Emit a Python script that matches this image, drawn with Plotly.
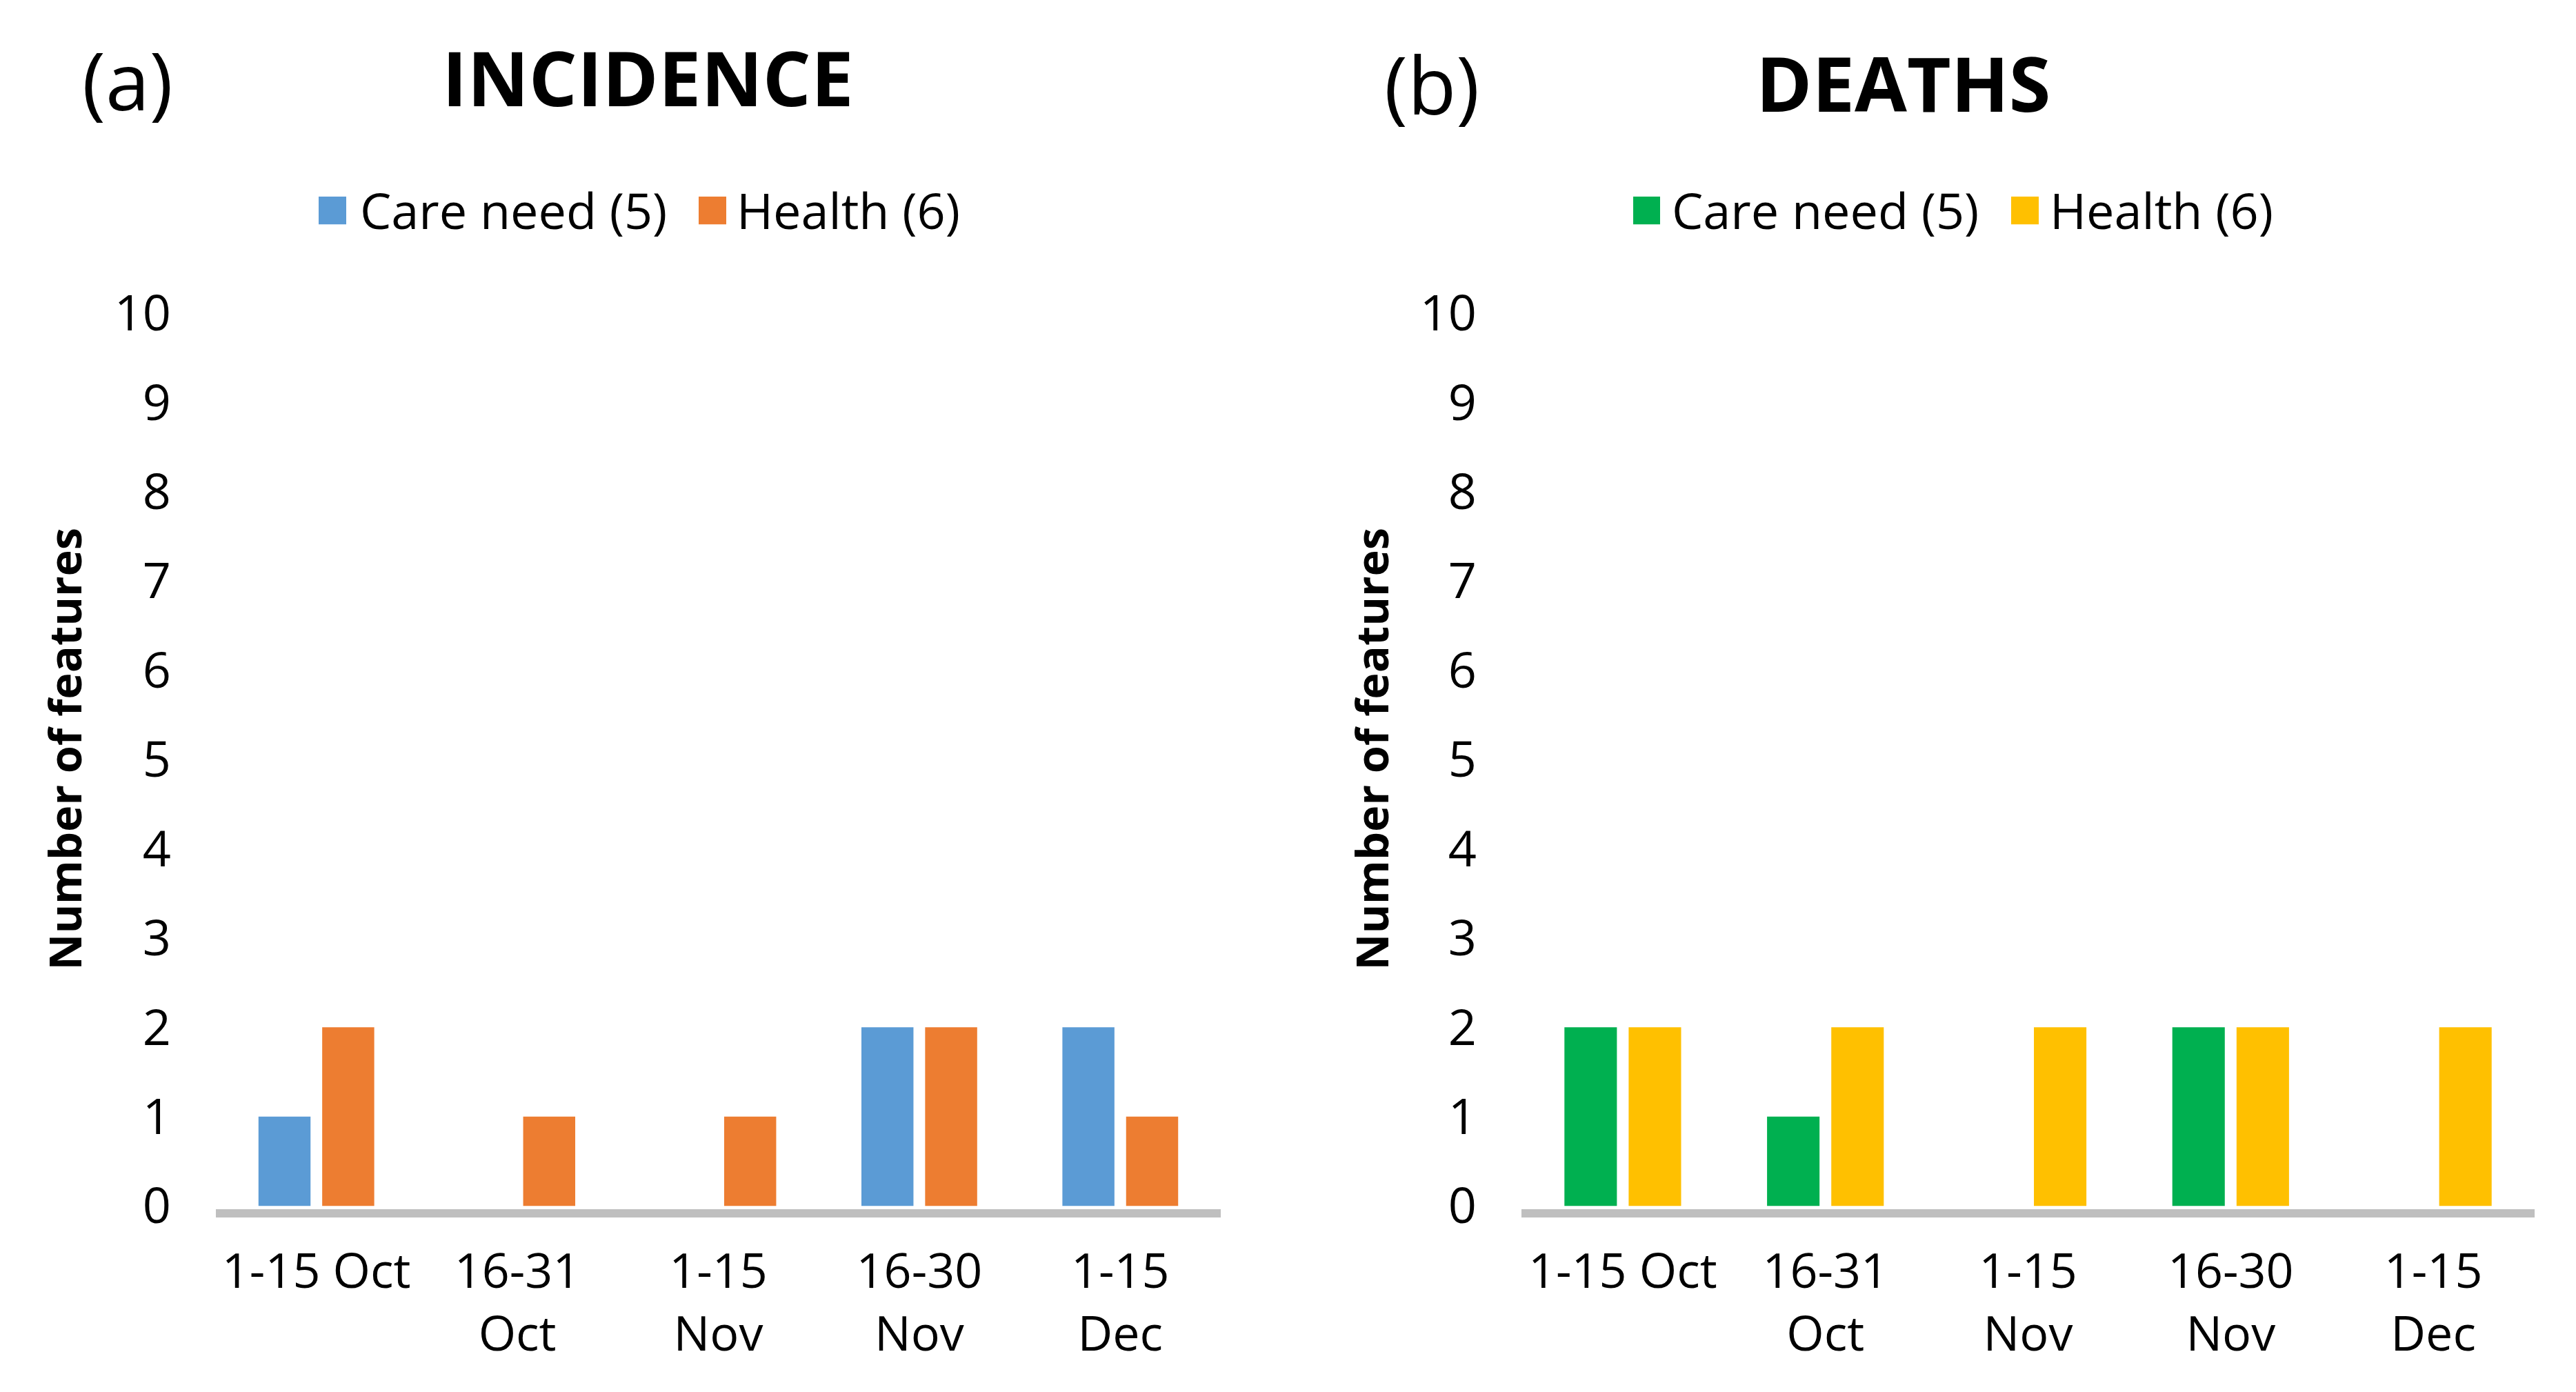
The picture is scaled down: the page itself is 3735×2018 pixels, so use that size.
import plotly.graph_objects as go

# ---- data ----
categories = ["1-15 Oct", "16-31<br>Oct", "1-15<br>Nov", "16-30<br>Nov", "1-15<br>Dec"]
incidence_care = [1, 0, 0, 2, 2]
incidence_health = [2, 1, 1, 2, 1]
deaths_care = [2, 1, 0, 2, 0]
deaths_health = [2, 2, 2, 2, 2]
y_ticks = list(range(0, 11))
series_names = ["Care need (5)", "Health (6)"]
panel_titles = ["INCIDENCE", "DEATHS"]
panel_labels = ["(a)", "(b)"]
y_title = "Number of features"

# ---- style ----
W, H = 3735, 2018
C_BLUE, C_ORANGE, C_GREEN, C_YELLOW = "#5B9BD5", "#ED7D31", "#00B050", "#FFC000"
AXIS_GREY = "#BFBFBF"
FONT = "Open Sans"


def px(x):
    return x / W


def py(y):
    return 1 - y / H


fig = go.Figure()
fig.add_trace(go.Bar(x=categories, y=incidence_care, name=series_names[0],
                     marker=dict(color=C_BLUE, line=dict(width=0)), xaxis="x", yaxis="y"))
fig.add_trace(go.Bar(x=categories, y=incidence_health, name=series_names[1],
                     marker=dict(color=C_ORANGE, line=dict(width=0)), xaxis="x", yaxis="y"))
fig.add_trace(go.Bar(x=categories, y=deaths_care, name=series_names[0],
                     marker=dict(color=C_GREEN, line=dict(width=0)), xaxis="x2", yaxis="y2"))
fig.add_trace(go.Bar(x=categories, y=deaths_health, name=series_names[1],
                     marker=dict(color=C_YELLOW, line=dict(width=0)), xaxis="x2", yaxis="y2"))

ydom = [py(1775), py(413)]
xcommon = dict(showline=True, linecolor=AXIS_GREY, linewidth=12, ticks="", showgrid=False,
               zeroline=False, tickfont=dict(family=FONT, size=70, color="black"),
               ticklabelstandoff=18, type="category")
ycommon = dict(range=[-0.039, 10], tickvals=y_ticks, showgrid=False, zeroline=False,
               showline=False, ticks="", tickfont=dict(family=FONT, size=72, color="black"),
               ticklabelstandoff=64)

fig.update_layout(
    width=W, height=H, autosize=False,
    margin=dict(l=0, r=0, t=0, b=0),
    paper_bgcolor="white", plot_bgcolor="white",
    barmode="group", bargap=0.366, bargroupgap=0.183,
    showlegend=False,
    font=dict(family=FONT, color="black"),
    xaxis=dict(domain=[px(305), px(1762)], anchor="y", **xcommon),
    yaxis=dict(domain=ydom, anchor="x", **ycommon),
    xaxis2=dict(domain=[px(2198), px(3667)], anchor="y2", **xcommon),
    yaxis2=dict(domain=ydom, anchor="x2", **ycommon),
)

annotations = []
# panel labels and titles
for lab, (x, y) in zip(panel_labels, [(177, 58), (2068, 64)]):
    annotations.append(dict(text=lab, x=px(x), y=py(y), xref="paper", yref="paper",
                            xanchor="center", yanchor="middle", showarrow=False,
                            font=dict(family=FONT, size=115, color="black")))
for t, (x, y) in zip(panel_titles, [(931, 53), (2751, 62)]):
    annotations.append(dict(text="<b>%s</b>" % t, x=px(x), y=py(y), xref="paper", yref="paper",
                            xanchor="center", yanchor="middle", showarrow=False,
                            font=dict(family=FONT, size=110, color="black")))
# y-axis titles
for x in [85, 1980]:
    annotations.append(dict(text="<b>%s</b>" % y_title, x=px(x), y=py(1075), xref="paper",
                            yref="paper", xanchor="center", yanchor="middle", showarrow=False,
                            textangle=-90, font=dict(family=FONT, size=65, color="black")))

# legends (keys as shapes, labels as annotations)
shapes = []
legend_items = [
    (C_BLUE, 454, 494, series_names[0], 512),
    (C_ORANGE, 1005, 1045, series_names[1], 1058),
    (C_GREEN, 2360, 2399, series_names[0], 2414),
    (C_YELLOW, 2908, 2948, series_names[1], 2962),
]
for col, x0, x1, name, tx in legend_items:
    shapes.append(dict(type="rect", xref="paper", yref="paper", x0=px(x0), x1=px(x1),
                       y0=py(278), y1=py(236), fillcolor=col, line=dict(width=0)))
    annotations.append(dict(text=name, x=px(tx), y=py(256), xref="paper", yref="paper",
                            xanchor="left", yanchor="middle", showarrow=False,
                            font=dict(family=FONT, size=72, color="black")))

fig.update_layout(annotations=annotations, shapes=shapes)
fig.write_html("out.html")
